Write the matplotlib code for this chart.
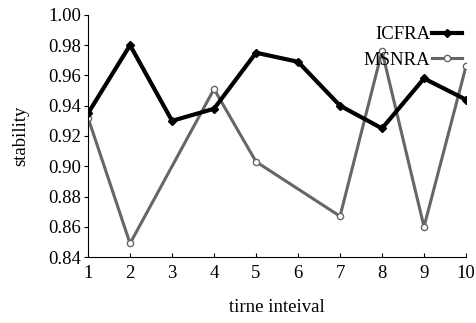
import numpy as np
import matplotlib
matplotlib.use("Agg")
import matplotlib.pyplot as plt

plt.rcParams['font.family'] = ['Liberation Serif', 'DejaVu Serif']

# data
icfra_x = [1, 2, 3, 4, 5, 6, 7, 8, 9, 10]
icfra_y = [0.935, 0.980, 0.930, 0.938, 0.975, 0.969, 0.940, 0.925, 0.958, 0.944]

msnra_x = [1, 2, 4, 5, 7, 8, 9, 10]
msnra_y = [0.932, 0.849, 0.951, 0.903, 0.867, 0.976, 0.860, 0.966]

xticks = list(range(1, 11))
yticks = [0.84, 0.86, 0.88, 0.90, 0.92, 0.94, 0.96, 0.98, 1.00]

fig = plt.figure(figsize=(4.76, 3.23), dpi=100)
ax = fig.add_axes([0.185, 0.204, 0.794, 0.750])

ax.plot(icfra_x, icfra_y, color='black', lw=3, marker='D', ms=4.2,
        label='ICFRA', zorder=3)
ax.plot(msnra_x, msnra_y, color='#666666', lw=2.2, marker='o', ms=4.5,
        mfc='white', mec='#666666', mew=1, label='MSNRA', zorder=2)

ax.set_xlim(1, 10)
ax.set_ylim(0.84, 1.00)
ax.set_xticks(xticks)
ax.set_yticks(yticks)
ax.set_yticklabels(['%.2f' % v for v in yticks])

ax.spines['top'].set_visible(False)
ax.spines['right'].set_visible(False)
ax.tick_params(axis='x', direction='in', length=3, labelsize=13.5, pad=6)
ax.tick_params(axis='y', direction='out', length=3, labelsize=13.5, pad=2)

ax.set_xlabel('tirne inteival', fontsize=13.5, labelpad=12)
ax.set_ylabel('stability', fontsize=13.5, labelpad=14)

ax.legend(loc='upper right', bbox_to_anchor=(1.01, 0.985), frameon=False,
          markerfirst=False, fontsize=13.5, handlelength=1.6,
          handletextpad=0.1, labelspacing=0.45, borderaxespad=0)

fig.savefig('out.png', dpi=100)
